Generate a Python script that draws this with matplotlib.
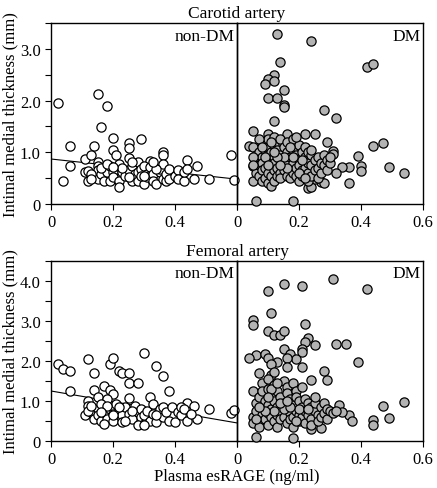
import matplotlib

matplotlib.use("Agg")
import matplotlib.pyplot as plt
from matplotlib.ticker import MultipleLocator

plt.rcParams["font.family"] = ["Liberation Serif", "DejaVu Serif"]
plt.rcParams["font.size"] = 12

# Carotid artery, non-DM (open circles)
carotid_nondm_x = [
    0.022, 0.04, 0.06, 0.06, 0.15, 0.18, 0.16, 0.11, 0.14, 0.13, 0.20, 0.25, 0.25,
    0.29, 0.20, 0.21, 0.25, 0.36, 0.36, 0.44, 0.47, 0.51, 0.58, 0.59, 0.32, 0.32,
    0.11, 0.12, 0.12, 0.14, 0.15, 0.15, 0.15, 0.15, 0.16, 0.17, 0.18, 0.19, 0.19,
    0.20, 0.20, 0.22, 0.22, 0.22, 0.23, 0.24, 0.25, 0.26, 0.26, 0.27, 0.28, 0.28,
    0.28, 0.29, 0.30, 0.30, 0.31, 0.31, 0.32, 0.33, 0.33, 0.34, 0.35, 0.35, 0.36,
    0.36, 0.37, 0.37, 0.38, 0.38, 0.40, 0.41, 0.41, 0.43, 0.43, 0.44, 0.46, 0.34,
    0.33, 0.26, 0.23, 0.16, 0.13, 0.18, 0.20, 0.29, 0.30, 0.25, 0.13,
]
carotid_nondm_y = [
    1.95, 0.45, 1.13, 0.74, 2.13, 1.90, 1.48, 0.87, 1.12, 0.94, 1.27, 1.18, 1.08,
    1.25, 1.05, 0.94, 0.89, 1.00, 0.95, 0.85, 0.74, 0.48, 0.95, 0.46, 0.79, 0.84,
    0.61, 0.63, 0.45, 0.55, 0.81, 0.74, 0.65, 0.48, 0.58, 0.45, 0.61, 0.45, 0.74,
    0.61, 0.52, 0.45, 0.32, 0.77, 0.61, 0.55, 0.65, 0.45, 0.74, 0.58, 0.61, 0.81,
    0.45, 0.68, 0.74, 0.39, 0.58, 0.52, 0.71, 0.58, 0.45, 0.39, 0.61, 0.68, 0.77,
    0.48, 0.45, 0.58, 0.68, 0.48, 0.55, 0.65, 0.48, 0.45, 0.61, 0.68, 0.48, 0.68,
    0.81, 0.81, 0.69, 0.69, 0.58, 0.77, 0.71, 0.55, 0.55, 0.52, 0.48,
]

# Carotid artery, DM (gray circles)
carotid_dm_x = [
    0.13, 0.24, 0.14, 0.42, 0.44, 0.12, 0.10, 0.09, 0.12, 0.15, 0.10, 0.13, 0.15,
    0.15, 0.28, 0.32, 0.12, 0.05, 0.25, 0.22, 0.16, 0.10, 0.44, 0.47, 0.39, 0.49,
    0.54, 0.36, 0.40, 0.40, 0.36, 0.34, 0.32, 0.31, 0.31, 0.29, 0.06, 0.18, 0.04,
    0.05, 0.05, 0.23, 0.24, 0.27, 0.28, 0.25,
    0.05, 0.06, 0.06, 0.06, 0.07, 0.07, 0.07, 0.08, 0.08, 0.08, 0.08, 0.08, 0.09,
    0.09, 0.09, 0.10, 0.10, 0.10, 0.10, 0.10, 0.10, 0.11, 0.11, 0.11, 0.11, 0.12,
    0.12, 0.12, 0.12, 0.12, 0.12, 0.13, 0.13, 0.13, 0.14, 0.14, 0.14, 0.14, 0.14,
    0.15, 0.15, 0.15, 0.16, 0.16, 0.16, 0.16, 0.17, 0.17, 0.17, 0.18, 0.18, 0.18,
    0.18, 0.19, 0.19, 0.19, 0.20, 0.20, 0.20, 0.20, 0.21, 0.21, 0.21, 0.22, 0.22,
    0.22, 0.23, 0.23, 0.23, 0.23, 0.24, 0.24, 0.24, 0.25, 0.25, 0.26, 0.26, 0.26,
    0.27, 0.27, 0.28, 0.28, 0.29, 0.29, 0.30, 0.30, 0.15, 0.13, 0.09, 0.17, 0.19,
    0.21, 0.11, 0.07, 0.05, 0.05, 0.16, 0.18, 0.12, 0.20, 0.24, 0.22, 0.14, 0.10,
    0.08,
]
carotid_dm_y = [
    3.28, 3.16, 2.75, 2.65, 2.71, 2.50, 2.42, 2.32, 2.37, 2.20, 2.05, 2.05, 1.92,
    1.88, 1.82, 1.66, 1.60, 1.42, 1.36, 1.36, 1.36, 1.36, 1.13, 1.18, 0.92, 0.72,
    0.59, 0.40, 0.74, 0.63, 0.71, 0.71, 0.60, 1.03, 0.97, 1.19, 0.05, 0.05, 1.13,
    0.45, 0.74, 0.31, 0.32, 0.42, 0.40, 0.48,
    1.10, 0.95, 0.85, 0.60, 1.00, 0.75, 0.55, 1.20, 0.90, 0.80, 0.65, 0.45, 1.05,
    0.70, 0.50, 1.25, 1.10, 0.95, 0.85, 0.60, 0.40, 1.00, 0.75, 0.55, 0.35, 1.30,
    1.15, 0.90, 0.80, 0.65, 0.45, 1.05, 0.70, 0.55, 1.25, 0.95, 0.85, 0.60, 0.50,
    1.10, 0.75, 0.65, 1.20, 1.00, 0.85, 0.55, 0.90, 0.70, 0.50, 1.25, 1.05, 0.80,
    0.60, 0.95, 0.70, 0.55, 1.15, 0.85, 0.75, 0.45, 1.00, 0.65, 0.55, 1.10, 0.90,
    0.70, 1.00, 0.80, 0.60, 0.45, 0.95, 0.75, 0.55, 0.85, 0.65, 0.90, 0.70, 0.50,
    0.80, 0.60, 0.95, 0.75, 0.85, 0.65, 0.80, 0.90, 0.90, 0.90, 0.90, 1.10, 1.30,
    0.85, 1.20, 1.25, 0.90, 0.75, 0.70, 0.90, 1.00, 0.60, 1.05, 0.50, 0.75, 0.75,
    1.10,
]

# Femoral artery, non-DM
femoral_nondm_x = [
    0.022, 0.04, 0.06, 0.06, 0.12, 0.14, 0.19, 0.20, 0.22, 0.23, 0.25, 0.25, 0.28,
    0.30, 0.34, 0.36, 0.38, 0.14, 0.17, 0.19, 0.20, 0.12, 0.15, 0.18, 0.25, 0.32,
    0.51, 0.58, 0.59, 0.44, 0.46, 0.47,
    0.11, 0.12, 0.13, 0.14, 0.15, 0.15, 0.16, 0.16, 0.17, 0.18, 0.19, 0.20, 0.20,
    0.21, 0.22, 0.23, 0.23, 0.24, 0.25, 0.26, 0.27, 0.28, 0.29, 0.29, 0.30, 0.30,
    0.31, 0.32, 0.33, 0.33, 0.34, 0.35, 0.36, 0.36, 0.37, 0.38, 0.39, 0.40, 0.41,
    0.42, 0.42, 0.43, 0.44, 0.45, 0.18, 0.22, 0.12, 0.13, 0.16, 0.26, 0.20, 0.28,
    0.30, 0.34, 0.24, 0.17,
]
femoral_nondm_y = [
    1.93, 1.79, 1.74, 1.24, 2.04, 1.69, 1.92, 2.08, 1.74, 1.69, 1.69, 1.45, 1.46,
    2.19, 1.88, 1.63, 1.26, 1.27, 1.38, 1.27, 1.17, 1.01, 1.09, 1.05, 1.07, 1.09,
    0.80, 0.69, 0.78, 0.95, 0.87, 0.55,
    0.64, 0.88, 0.72, 0.55, 0.80, 0.64, 0.51, 0.93, 0.72, 0.55, 0.80, 0.68, 0.51,
    0.93, 0.76, 0.64, 0.47, 0.84, 0.68, 0.55, 0.88, 0.72, 0.60, 0.80, 0.43, 0.64,
    0.76, 0.51, 0.93, 0.68, 0.47, 0.80, 0.84, 0.60, 0.72, 0.51, 0.84, 0.47, 0.72,
    0.64, 0.84, 0.80, 0.51, 0.68, 0.88, 0.84, 0.76, 0.88, 0.72, 0.76, 0.64, 0.39,
    0.39, 0.64, 0.51, 0.43,
]

# Femoral artery, DM
femoral_dm_x = [
    0.21, 0.15, 0.10, 0.31, 0.42, 0.11, 0.05, 0.05, 0.10, 0.12, 0.14, 0.15, 0.22,
    0.23, 0.22, 0.25, 0.32, 0.35, 0.15, 0.21, 0.21, 0.06, 0.04, 0.09, 0.17, 0.19,
    0.16, 0.10, 0.13, 0.11, 0.16, 0.21, 0.39, 0.28, 0.07, 0.11, 0.12, 0.29, 0.24,
    0.05, 0.47, 0.54, 0.49, 0.44, 0.44, 0.36, 0.37, 0.06, 0.18, 0.33, 0.34, 0.24,
    0.27,
    0.05, 0.05, 0.06, 0.06, 0.07, 0.07, 0.07, 0.08, 0.08, 0.08, 0.08, 0.09, 0.09,
    0.10, 0.10, 0.10, 0.10, 0.10, 0.11, 0.11, 0.11, 0.12, 0.12, 0.12, 0.13, 0.13,
    0.13, 0.13, 0.14, 0.14, 0.14, 0.15, 0.15, 0.15, 0.16, 0.16, 0.16, 0.16, 0.17,
    0.17, 0.17, 0.18, 0.18, 0.18, 0.18, 0.19, 0.19, 0.19, 0.20, 0.20, 0.20, 0.21,
    0.21, 0.21, 0.22, 0.22, 0.22, 0.23, 0.23, 0.24, 0.24, 0.24, 0.25, 0.25, 0.26,
    0.26, 0.27, 0.27, 0.28, 0.28, 0.29, 0.29, 0.30, 0.31, 0.32, 0.12, 0.09, 0.15,
    0.20, 0.07, 0.11, 0.14, 0.17, 0.23, 0.19, 0.13, 0.25, 0.06, 0.10, 0.16,
]
femoral_dm_y = [
    3.88, 3.92, 3.76, 4.05, 3.79, 3.21, 3.02, 2.90, 2.76, 2.66, 2.66, 2.76, 2.93,
    2.57, 2.47, 2.39, 2.43, 2.43, 2.30, 2.29, 2.22, 2.15, 2.08, 2.18, 2.17, 2.06,
    2.08, 2.07, 1.98, 1.93, 1.85, 1.85, 1.98, 1.74, 1.69, 1.64, 1.73, 1.53, 1.52,
    1.26, 0.88, 0.97, 0.57, 0.53, 0.41, 0.64, 0.51, 0.10, 0.07, 0.91, 0.72, 0.31,
    0.32,
    0.60, 0.45, 0.95, 0.75, 1.10, 0.50, 0.35, 1.45, 1.25, 0.85, 0.65, 1.00, 0.55,
    1.55, 1.30, 0.90, 0.70, 0.40, 1.15, 0.80, 0.60, 1.40, 1.00, 0.50, 1.25, 0.85,
    0.65, 0.35, 1.10, 0.75, 0.55, 1.50, 0.95, 0.60, 1.35, 1.20, 0.80, 0.45, 1.05,
    0.70, 0.55, 1.45, 0.90, 0.60, 0.35, 1.25, 1.10, 0.75, 1.00, 0.65, 0.50, 1.35,
    0.85, 0.60, 1.05, 0.75, 0.45, 0.95, 0.65, 0.85, 0.55, 0.40, 0.75, 0.95, 0.65,
    0.50, 0.85, 0.60, 0.95, 0.70, 0.80, 0.55, 0.75, 0.70, 0.75, 0.75, 0.75, 0.80,
    0.80, 0.85, 1.30, 0.95, 0.85, 0.80, 0.50, 1.45, 1.10, 0.55, 1.10, 1.00,
]

# non-DM regression lines (intercept, slope)
carotid_fit = (0.87, -0.65)
femoral_fit = (1.25, -1.33)

panels = [
    ("Carotid artery", carotid_nondm_x, carotid_nondm_y, carotid_dm_x, carotid_dm_y,
     carotid_fit, 3.5, ["0", "1.0", "2.0", "3.0"]),
    ("Femoral artery", femoral_nondm_x, femoral_nondm_y, femoral_dm_x, femoral_dm_y,
     femoral_fit, 4.5, ["0", "1.0", "2.0", "3.0", "4.0"]),
]

W, H = 437, 489
fig = plt.figure(figsize=(W / 100, H / 100), dpi=100)

left_px, split_px, right_px = 51, 237, 423
panel_rows = [(24, 205), (262, 442)]

for (title, nx, ny, dx, dy, fit, ymax, ylabels), (top_px, bot_px) in zip(panels, panel_rows):
    bottom = (H - bot_px) / H
    height = (bot_px - top_px) / H
    ax_l = fig.add_axes([left_px / W, bottom, (split_px - left_px) / W, height])
    ax_r = fig.add_axes([split_px / W, bottom, (right_px - split_px) / W, height])
    ax_r.patch.set_visible(False)

    ax_l.scatter(nx, ny, s=44, facecolor="white", edgecolor="black", linewidth=0.9,
                 zorder=3, clip_on=False)
    ax_r.scatter(dx, dy, s=44, facecolor="#b3b3b3", edgecolor="black", linewidth=0.9,
                 zorder=3, clip_on=False)
    b0, b1 = fit
    ax_l.plot([0, 0.6], [b0, b0 + b1 * 0.6], color="black", linewidth=0.8, zorder=2)

    for ax in (ax_l, ax_r):
        ax.set_xlim(0, 0.6)
        ax.set_ylim(0, ymax)
        ax.set_xticks([0, 0.2, 0.4, 0.6])
        ax.tick_params(axis="both", direction="out", length=4, width=0.8, labelsize=12)
        for sp in ax.spines.values():
            sp.set_linewidth(1.0)

    ax_l.set_xticklabels(["0", "0.2", "0.4", ""])
    ax_r.set_xticklabels(["0", "0.2", "0.4", "0.6"])
    ax_l.set_yticks([float(i) for i in range(len(ylabels))])
    ax_l.set_yticklabels(ylabels)
    ax_l.yaxis.set_minor_locator(MultipleLocator(0.5))
    ax_l.tick_params(axis="y", which="minor", direction="out", length=4, width=0.8)
    ax_r.tick_params(axis="y", left=False, labelleft=False)

    ax_l.text(0.985, 0.975, "non-DM", transform=ax_l.transAxes, ha="right", va="top",
              fontsize=12.5)
    ax_r.text(0.985, 0.975, "DM", transform=ax_r.transAxes, ha="right", va="top",
              fontsize=12.5)

    fig.text(split_px / W, (H - top_px + 2) / H, title, ha="center", va="bottom",
             fontsize=12.5)
    fig.text(10 / W, (H - (top_px + bot_px) / 2) / H, "Intimal medial thickness (mm)",
             rotation=90, ha="center", va="center", fontsize=12)

fig.text(split_px / W, (H - 477) / H, "Plasma esRAGE (ng/ml)", ha="center", va="center",
         fontsize=12)

fig.savefig("out.png", dpi=100)
